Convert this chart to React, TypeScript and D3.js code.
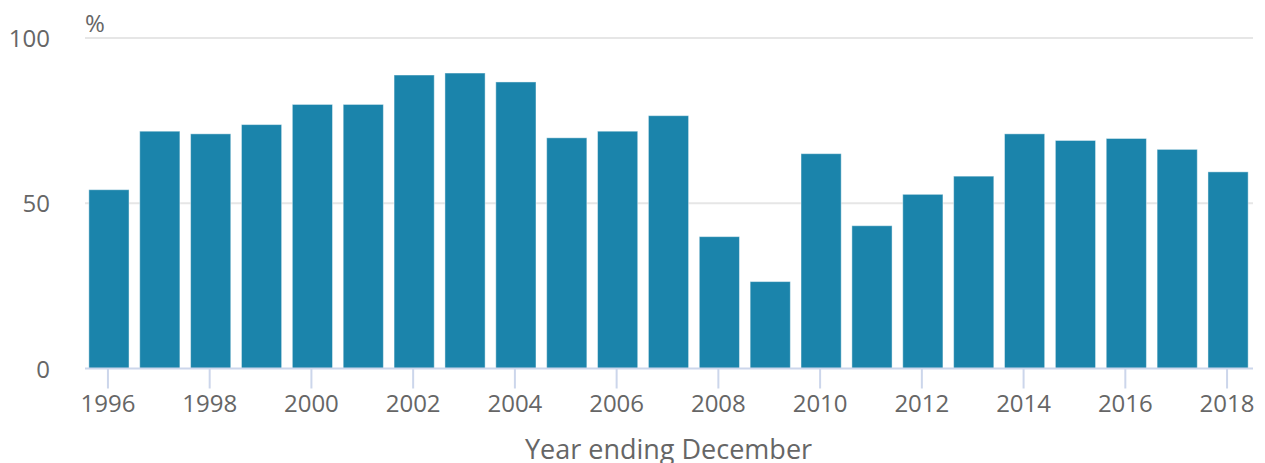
import React from "react";
import * as d3 from "d3";

const years: string[] = [
  "1996", "1997", "1998", "1999", "2000", "2001", "2002", "2003", "2004", "2005", "2006", "2007",
  "2008", "2009", "2010", "2011", "2012", "2013", "2014", "2015", "2016", "2017", "2018",
];
const values: number[] = [
  54.1, 71.8, 71.0, 73.8, 79.9, 79.9, 88.8, 89.4, 86.7, 69.8, 71.8, 76.5,
  39.9, 26.3, 65.0, 43.2, 52.7, 58.2, 71.0, 69.0, 69.6, 66.3, 59.5,
];
const yTicks: number[] = [0, 50, 100];
const xTickLabels: string[] = ["1996", "1998", "2000", "2002", "2004", "2006", "2008", "2010", "2012", "2014", "2016", "2018"];
const xTitle = "Year ending December";
const yUnit = "%";

const W = 1265;
const H = 463;
const FONT = "'Open Sans', sans-serif";

export default function App() {
  const x = d3.scaleBand<string>().domain(years).range([83.5, 1253.5]).paddingInner(0.21).paddingOuter(0.105);
  const y = d3.scaleLinear().domain([0, 100]).range([368.5, 38]);
  const axisY = y(0);

  return (
    <svg width={W} height={H} style={{ position: "absolute", left: 0, top: 0, background: "#fff" }}>
      {yTicks.filter((t) => t !== 0).map((t) => (
        <line key={"g" + t} x1={85} x2={1253} y1={y(t)} y2={y(t)} stroke="#e6e6e6" strokeWidth={2} />
      ))}
      {yTicks.map((t) => (
        <text key={"yl" + t} x={50} y={y(t) + 9} textAnchor="end" fontFamily={FONT} fontSize={24} fill="#666">
          {t}
        </text>
      ))}
      <text x={85} y={32} fontFamily={FONT} fontSize={24} fill="#666">{yUnit}</text>
      {years.map((yr, i) => (
        <rect
          key={yr}
          x={x(yr)!}
          y={y(values[i])}
          width={x.bandwidth()}
          height={axisY - y(values[i])}
          fill="#1b84ab"
          stroke="#ffffff"
          strokeOpacity={0.45}
          strokeWidth={1}
        />
      ))}
      <line x1={85} x2={1253} y1={axisY} y2={axisY} stroke="#ccd6eb" strokeWidth={2} />
      {xTickLabels.map((yr) => {
        const cx = x(yr)! + x.bandwidth() / 2 - 1;
        return (
          <g key={"xt" + yr}>
            <line x1={cx} x2={cx} y1={axisY} y2={axisY + 20} stroke="#ccd6eb" strokeWidth={2} />
            <text x={cx} y={412} textAnchor="middle" fontFamily={FONT} fontSize={24} fill="#666">
              {yr}
            </text>
          </g>
        );
      })}
      <text x={668.5} y={459} textAnchor="middle" fontFamily={FONT} fontSize={27} fill="#666">
        {xTitle}
      </text>
    </svg>
  );
}
